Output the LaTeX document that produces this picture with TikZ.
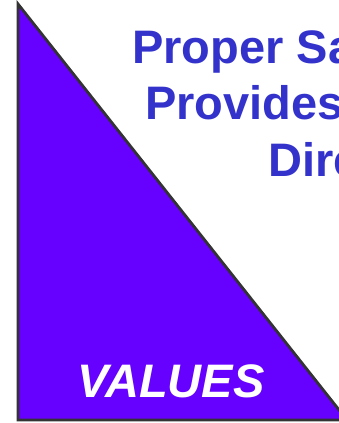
\documentclass[tikz,border=0pt]{standalone}
\usepackage{fontspec}
\setmainfont{Liberation Sans}
\usepackage{tikz}
\usetikzlibrary{positioning, calc}
\definecolor{valuepurple}{RGB}{102,0,255}
\definecolor{headblue}{RGB}{51,51,204}
\definecolor{edgegray}{RGB}{51,51,51}

\begin{document}
\begin{tikzpicture}[x=1pt, y=-1pt,
  headline/.style={anchor=base west, inner sep=0pt, text=headblue, font=\fontsize{47}{56}\selectfont\bfseries},
  valuetext/.style={anchor=base west, inner sep=0pt, text=white, font=\fontsize{47}{56}\selectfont\bfseries\itshape}]
\useasboundingbox (0,0) rectangle (339,423);
\clip (0,0) rectangle (339,423);

% Triangle
\coordinate (top) at (18,4);
\coordinate (bl) at (18,420);
\coordinate (br) at (347,420);
\draw[line width=2.8pt, draw=edgegray, fill=valuepurple, line join=miter] (top) -- (bl) -- (br) -- cycle;

% Heading
\node[headline] (line1) at (132,63) {Proper Sa};
\node[headline] (line2) at (145,119) {Provides};
\node[headline] (line3) at (268,176) {Dire};

% Label
\node[valuetext] (values) at (77,397) {VALUES};
\end{tikzpicture}
\end{document}
